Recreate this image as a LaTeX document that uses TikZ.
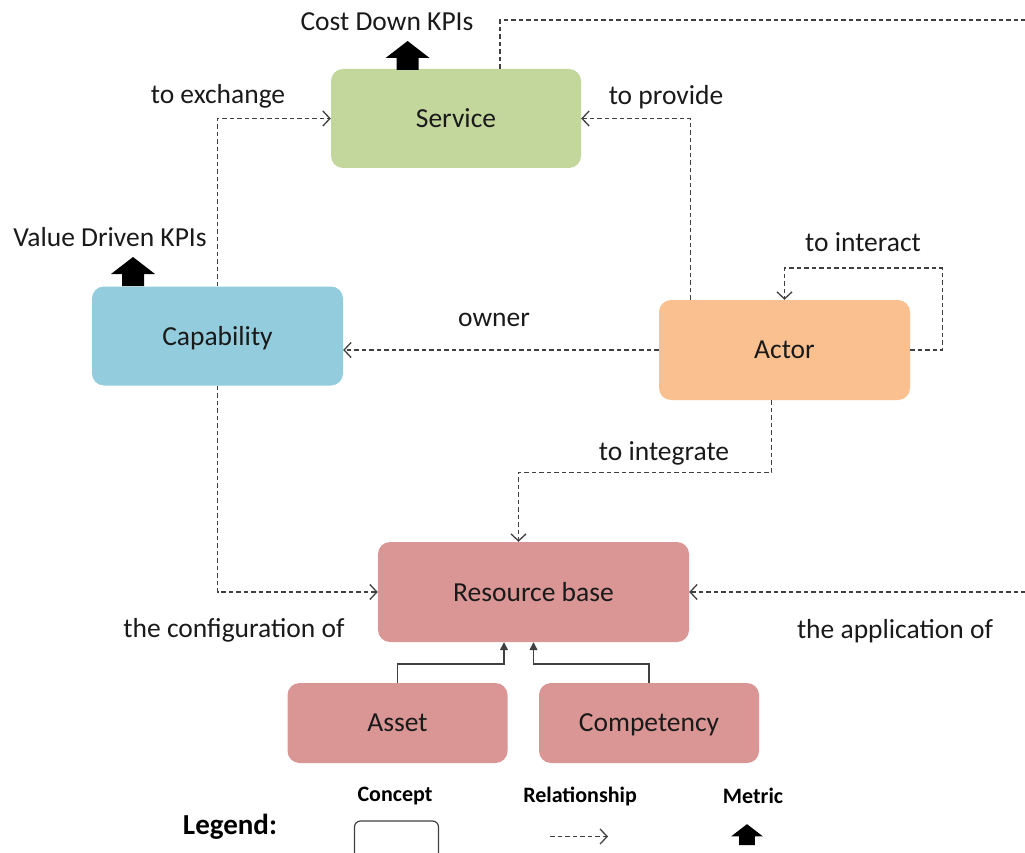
\documentclass[tikz,border=0pt]{standalone}
\usepackage{fontspec}
\setmainfont{Carlito}
\usetikzlibrary{arrows.meta}
\definecolor{servicegreen}{HTML}{C3D69B}
\definecolor{capblue}{HTML}{93CDDD}
\definecolor{actororange}{HTML}{FAC090}
\definecolor{resred}{HTML}{D99694}
\definecolor{linegray}{HTML}{404040}
\definecolor{textdark}{HTML}{1A1A1A}
\tikzset{
  concept/.style={rounded corners=12pt, inner sep=0pt, text=textdark,
    font=\fontsize{27.5}{30}\selectfont, text depth=0pt},
  rel/.style={draw=linegray, line width=1.3pt, dash pattern=on 4.5pt off 3pt,
    -{Straight Barb[length=7pt,width=15pt,line width=1.3pt]}},
  part/.style={draw=linegray, line width=1.4pt, -{Triangle[length=8pt,width=8pt]}},
  lbl/.style={font=\fontsize{27.5}{30}\selectfont, inner sep=0pt, text=textdark},
  leg/.style={font=\bfseries\fontsize{22}{24}\selectfont, inner sep=0pt},
  pics/metric/.style={code={
    \fill[black] (-11,0) -- (-11,-12) -- (-22,-12) -- (0,-29) -- (22,-12) -- (11,-12) -- (11,0) -- cycle;
  }}
}
\begin{document}
\begin{tikzpicture}[x=1pt,y=-1pt]
\useasboundingbox (0,0) rectangle (1025,853);

% concepts
\node[concept, fill=servicegreen, minimum width=250pt, minimum height=99pt] (Service) at (456,118.5) {Service};
\node[concept, fill=capblue, minimum width=251pt, minimum height=99pt] (Capability) at (217.5,336) {Capability};
\node[concept, fill=actororange, minimum width=251pt, minimum height=100pt] (Actor) at (784.5,350) {Actor};
\node[concept, fill=resred, minimum width=311pt, minimum height=100pt] (Resource) at (533.5,592) {Resource base};
\node[concept, fill=resred, minimum width=220pt, minimum height=80pt] (Asset) at (397.5,723) {Asset};
\node[concept, fill=resred, minimum width=220pt, minimum height=80pt] (Competency) at (649,723) {Competency};

% metrics
\pic (costkpi) at (407.6,70) {metric};
\node[lbl] (costlbl) at (387,22) {Cost Down KPIs};
\pic (valuekpi) at (133,286) {metric};
\node[lbl] (valuelbl) at (110,237) {Value Driven KPIs};

% relationships
\draw[rel] (Capability.north) |- (Service.west);
\node[lbl] (exchlbl) at (218,96) {to exchange};

\draw[rel] ([xshift=-94pt]Actor.north) |- (Service.east);
\node[lbl] (provlbl) at (666,97) {to provide};

\draw[rel] (Actor.west) -- (Actor.west -| Capability.east);
\node[lbl] (ownlbl) at (494,320) {owner};

\draw[rel] (Actor.east) -- ++(32,0) -- ++(0,-82) -| (Actor.north);
\node[lbl] (interlbl) at (863,242) {to interact};

\draw[rel] ([xshift=-13pt]Actor.south) -- ++(0,72) -| ([xshift=-15pt]Resource.north);
\node[lbl] (integlbl) at (664,453) {to integrate};

\draw[rel] (Capability.south) |- (Resource.west);
\node[lbl] (conflbl) at (234,630) {the configuration of};

\coordinate (offtop) at (1045,20);
\draw[rel] ([xshift=44pt]Service.north) |- (offtop) -- (offtop |- Resource.east) -- (Resource.east);
\node[lbl] (applbl) at (895,631) {the application of};

% composition of the resource base
\draw[part] (Asset.north) -- ++(0,-19) -| ([xshift=-29.5pt]Resource.south);
\draw[part] (Competency.north) -- ++(0,-19) -| (Resource.south);

% legend
\node[font=\bfseries\fontsize{29}{32}\selectfont, inner sep=0pt] (legtitle) at (230,827) {Legend:};
\node[leg] (legconcept) at (395,796) {Concept};
\node[leg] (legrel) at (580,796) {Relationship};
\node[leg] (legmetric) at (753,796) {Metric};
\draw[linegray, line width=1.2pt, rounded corners=6pt] (354.5,853) |- (438.5,821) -- (438.5,853);
\coordinate (legrelA) at (550,836.5);
\coordinate (legrelB) at (608,836.5);
\draw[rel] (legrelA) -- (legrelB);
\pic[scale=0.72] (legkpi) at (747,845) {metric};
\end{tikzpicture}
\end{document}
